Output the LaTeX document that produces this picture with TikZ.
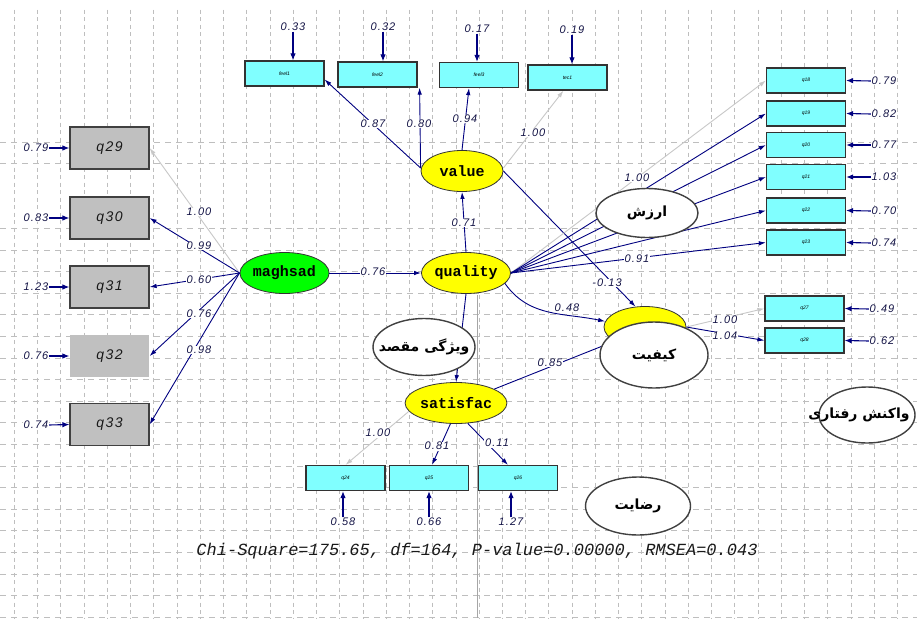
\documentclass[tikz,border=0pt]{standalone}
\usepackage{fontspec}
\usetikzlibrary{shapes.geometric,arrows.meta,calc}
\setmainfont{Liberation Sans}
\newfontfamily\labfont[LetterSpace=10]{Liberation Sans}
\newfontfamily\monofnt{Liberation Mono}
\newfontfamily\fafont[Script=Arabic]{DejaVu Sans}
\TeXXeTstate=1
\definecolor{navy}{RGB}{0,0,128}
\definecolor{lblc}{RGB}{20,20,70}
\definecolor{cyanbox}{RGB}{128,255,255}
\definecolor{graybox}{RGB}{192,192,192}
\definecolor{latyel}{RGB}{255,255,0}
\definecolor{latgrn}{RGB}{0,255,0}
\definecolor{gridc}{RGB}{190,190,190}
\definecolor{graypath}{RGB}{200,200,200}
\begin{document}
\begin{tikzpicture}[x=1pt,y=-1pt,
 obsbox/.style={draw=black!80,line width=1.2pt,fill=cyanbox,minimum width=79pt,minimum height=25pt,inner sep=0pt,font=\fontsize{5}{6}\selectfont\itshape},
 leftbox/.style={draw=black!75,line width=1.2pt,fill=graybox,minimum width=79pt,minimum height=42pt,inner sep=0pt,text=black!90,font=\labfont\itshape\fontsize{14}{16}\selectfont},
 latent/.style={ellipse,draw=black!80,line width=0.8pt,minimum width=82pt,minimum height=41pt,inner sep=0pt,font=\monofnt\bfseries\fontsize{15}{17}\selectfont},
 faell/.style={ellipse,draw=black!75,line width=1.4pt,fill=white,inner sep=0pt,font=\fafont\bfseries\fontsize{14}{16}\selectfont},
 lpath/.style={draw=navy,line width=0.9pt,-{Latex[length=7pt,width=4.5pt]}},
 fixpath/.style={draw=graypath,line width=0.9pt,-{Latex[length=7pt,width=4.5pt]}},
 errarr/.style={draw=navy,line width=1.1pt,-{Latex[length=7pt,width=5.5pt]}},
 lbl/.style={fill=white,inner sep=0.6pt,text=lblc,font=\labfont\itshape\fontsize{11}{13}\selectfont},
]
\useasboundingbox (0,0) rectangle (917,618);
\fill[white] (0,0) rectangle (917,618);
% grid
\foreach \i in {0,...,39} \draw[gridc,line width=0.7pt,dash pattern=on 4pt off 3.5pt] (14.3+23.24*\i,10) -- (14.3+23.24*\i,618);
\foreach \k in {0,1,4,5,6,7,8,9,10,11,12,13,14,15,16,17,18,19,20,21,22} \draw[gridc,line width=0.7pt,dash pattern=on 6pt off 5pt] (0,142+21.6*\k) -- (917,142+21.6*\k);
\draw[gray!70,line width=0.7pt] (477,295) -- (477,618);

% observed boxes
\node[obsbox] (f1) at (284.5,73.5) {feel1};
\node[obsbox] (f2) at (377.5,74.5) {feel2};
\node[obsbox] (f3) at (479,75) {feel3};
\node[obsbox] (f4) at (567.5,77.5) {tec1};
\node[obsbox] (q18) at (806,80.5) {q18};
\node[obsbox] (q19) at (806,113.5) {q19};
\node[obsbox] (q20) at (806,145) {q20};
\node[obsbox] (q21) at (806,177) {q21};
\node[obsbox] (q22) at (806,210.5) {q22};
\node[obsbox] (q23) at (806,242.5) {q23};
\node[obsbox] (q27) at (804.5,308.5) {q27};
\node[obsbox] (q28) at (804.5,340.5) {q28};
\node[obsbox] (q24) at (345.5,478) {q24};
\node[obsbox] (q25) at (429,478) {q25};
\node[obsbox] (q26) at (518,478) {q26};
\node[leftbox] (q29) at (109.5,148) {q29};
\node[leftbox] (q30) at (109.5,218) {q30};
\node[leftbox] (q31) at (109.5,287) {q31};
\node[leftbox,draw=none] (q32) at (109.5,356) {q32};
\node[leftbox] (q33) at (109.5,424.5) {q33};

% latent
\node[latent,fill=latyel] (val) at (462,171) {value};
\node[latent,fill=latyel] (qual) at (466,273) {quality};
\node[latent,fill=latgrn] (mag) at (284.5,273) {maghsad};
\node[latent,fill=latyel] (sat) at (456,403) {satisfac};
\node[latent,fill=latyel] (yel) at (645,327) {};

% paths from value
\draw[lpath] ([yshift=3pt]val.west) -- ([yshift=-6pt]f1.east);
\draw[lpath] ([yshift=3pt]val.west) -- ([xshift=2pt]f2.south east);
\draw[lpath] (val.north) -- ([xshift=-10pt]f3.south);
\draw[fixpath] ([yshift=3pt]val.east) -- ([xshift=-4pt]f4.south);
\draw[lpath] (val.east) -- (yel.115);
% quality
\draw[lpath] (qual.north) -- (val.south);
\draw[lpath] (mag.east) -- (qual.west);
\draw[lpath] (qual.-15) to[out=-55,in=168] (yel.172);
\draw[lpath] (qual.south) -- (sat.north);
\draw[lpath] (sat.20) -- (yel.205);
\draw[fixpath] (qual.east) -- (q18.west);
\foreach \b in {q19,q20,q21,q22,q23} \draw[lpath] (qual.east) -- (\b.west);
% maghsad
\draw[fixpath] (mag.west) -- (q29.east);
\foreach \b in {q30,q31,q32,q33} \draw[lpath] (mag.west) -- (\b.east);
% yel
\draw[fixpath] (yel.east) -- (q27.west);
\draw[lpath] (yel.east) -- (q28.west);
% satisfac
\draw[fixpath] (sat.190) -- (q24.north);
\draw[lpath] (sat.-105) -- ([xshift=3pt]q25.north);
\draw[lpath] (sat.-60) -- ([xshift=-10pt]q26.north);

% path labels
\node[lbl] (l1) at (373,124) {0.87};
\node[lbl] (l2) at (419,124) {0.80};
\node[lbl] (l3) at (465,119) {0.94};
\node[lbl] (l4) at (533,133) {1.00};
\node[lbl] (l5) at (464,223) {0.71};
\node[lbl] (l6) at (373,272) {0.76};
\node[lbl] (l7) at (199,212) {1.00};
\node[lbl] (l8) at (199,246) {0.99};
\node[lbl] (l9) at (199,280) {0.60};
\node[lbl] (l10) at (199,314) {0.76};
\node[lbl] (l11) at (199,350) {0.98};
\node[lbl] (l12) at (637,178) {1.00};
\node[lbl] (l13) at (637,259) {0.91};
\node[lbl] (l14) at (607,283) {-0.13};
\node[lbl] (l15) at (567,308) {0.48};
\node[lbl] (l16) at (550,363) {0.85};
\node[lbl] (l17) at (725,320) {1.00};
\node[lbl] (l18) at (725,336) {1.04};
\node[lbl] (l19) at (378,433) {1.00};
\node[lbl] (l20) at (437,446) {0.81};
\node[lbl] (l21) at (497,443) {0.11};

% error terms
\node[lbl] (e1) at (293,27) {0.33};
\node[lbl] (e2) at (383,27) {0.32};
\node[lbl] (e3) at (477,29) {0.17};
\node[lbl] (e4) at (572,30) {0.19};
\draw[errarr] (e1.south) -- (e1.south |- f1.north);
\draw[errarr] (e2.south) -- (e2.south |- f2.north);
\draw[errarr] (e3.south) -- (e3.south |- f3.north);
\draw[errarr] (e4.south) -- (e4.south |- f4.north);
\node[lbl] (e18) at (884,81) {0.79};
\node[lbl] (e19) at (884,114) {0.82};
\node[lbl] (e20) at (884,145) {0.77};
\node[lbl] (e21) at (884,177) {1.03};
\node[lbl] (e22) at (884,211) {0.70};
\node[lbl] (e23) at (884,243) {0.74};
\node[lbl] (e27) at (882,309) {0.49};
\node[lbl] (e28) at (882,341) {0.62};
\foreach \e/\b in {e18/q18,e19/q19,e20/q20,e21/q21,e22/q22,e23/q23,e27/q27,e28/q28}
  \draw[errarr] (\e.west) -- (\b.east);
\node[lbl] (e29) at (36,148) {0.79};
\node[lbl] (e30) at (36,218) {0.83};
\node[lbl] (e31) at (36,287) {1.23};
\node[lbl] (e32) at (36,356) {0.76};
\node[lbl] (e33) at (36,425) {0.74};
\foreach \e/\b in {e29/q29,e30/q30,e31/q31,e32/q32,e33/q33}
  \draw[errarr] (\e.east) -- (\b.west);
\node[lbl] (e24) at (343,522) {0.58};
\node[lbl] (e25) at (429,522) {0.66};
\node[lbl] (e26) at (511,522) {1.27};
\draw[errarr] (e24.north) -- (e24.north |- q24.south);
\draw[errarr] (e25.north) -- (e25.north |- q25.south);
\draw[errarr] (e26.north) -- (e26.north |- q26.south);

% Persian ellipses
\node[faell,minimum width=102pt,minimum height=49pt] (arz) at (647,213) {\makebox[0pt]{\beginR ارزش\endR}};
\node[faell,minimum width=108pt,minimum height=66pt] (kef) at (654,355) {\makebox[0pt]{\beginR کیفیت\endR}};
\node[faell,minimum width=102pt,minimum height=57pt] (vij) at (424,347) {\makebox[0pt]{\beginR ویژگی مقصد\endR}};
\node[faell,minimum width=105pt,minimum height=58pt] (rez) at (638,506) {\makebox[0pt]{\beginR رضایت\endR}};
\node[faell,minimum width=96pt,minimum height=56pt] (vak) at (867,415) {\makebox[0pt]{\kern-16pt\beginR واکنش رفتاری\endR}};

% fit text
\node[text=black!90,font=\monofnt\itshape\fontsize{17}{19}\selectfont,inner sep=0pt] (fit) at (477,551) {Chi-Square=175.65, df=164, P-value=0.00000, RMSEA=0.043};
\end{tikzpicture}
\end{document}
